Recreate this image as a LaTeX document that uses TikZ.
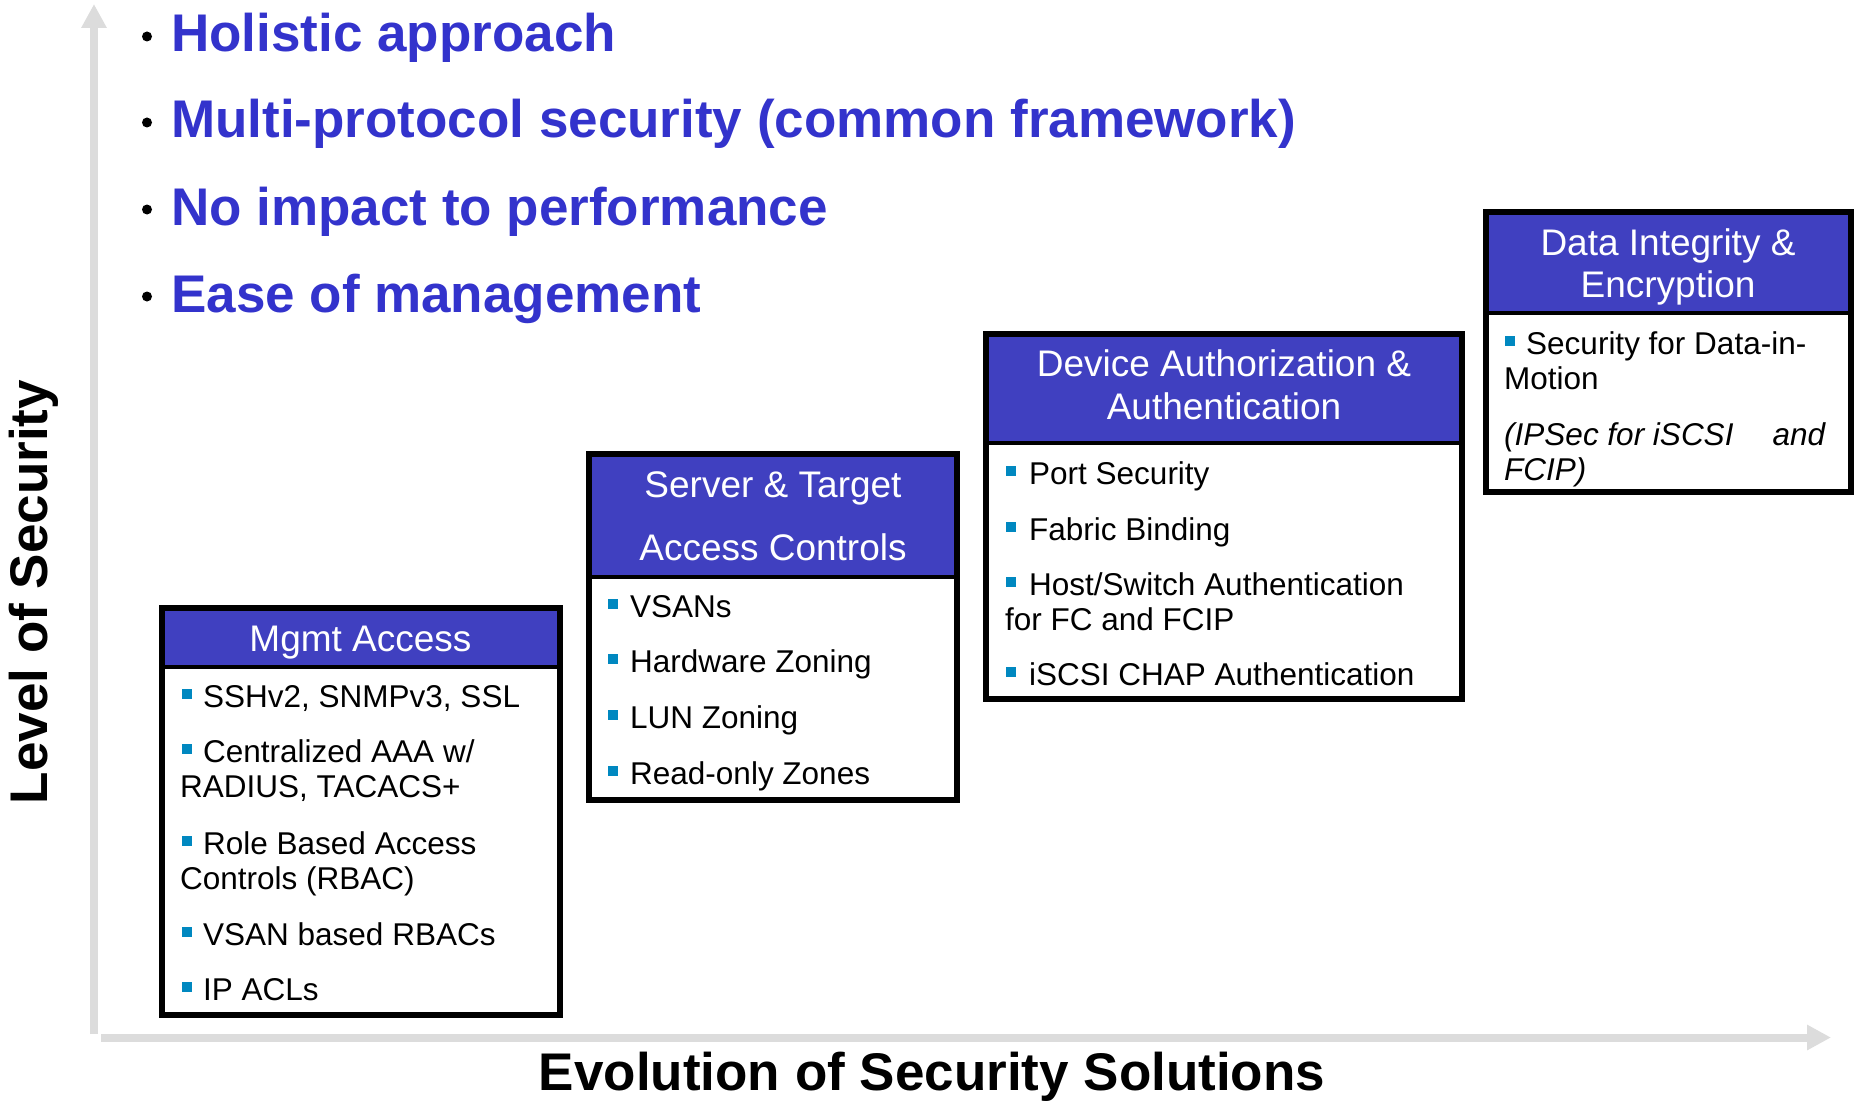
\documentclass[tikz,border=0pt]{standalone}
\usepackage{fontspec}
\setmainfont{Liberation Sans}
\usetikzlibrary{arrows.meta}
\definecolor{topblue}{RGB}{51,51,204}
\definecolor{hdrblue}{RGB}{64,64,192}
\definecolor{sqblue}{RGB}{0,136,192}
\definecolor{axisgray}{RGB}{220,220,220}
\tikzset{
  axisline/.style={draw=axisgray,line width=8pt,-{Triangle[width=24pt,length=24pt]},color=axisgray},
  topline/.style={anchor=base west,inner sep=0pt,text=topblue,font=\fontsize{53}{60}\selectfont\bfseries},
  topdot/.style={circle,fill=black,inner sep=0pt,minimum size=10pt},
  axlabel/.style={anchor=base,inner sep=0pt,font=\fontsize{53}{60}\selectfont\bfseries},
  hdrtext/.style={anchor=base,inner sep=0pt,text=white,font=\fontsize{37}{42}\selectfont},
  bodytext/.style={anchor=base west,inner sep=0pt,font=\fontsize{31.5}{35}\selectfont},
  sqmark/.style={anchor=south west,inner sep=0pt,fill=sqblue,minimum width=9.5pt,minimum height=9.5pt},
  boxframe/.style={draw=black,line width=6pt},
  hdrfill/.style={fill=hdrblue},
  hdrrule/.style={draw=black,line width=3.5pt}
}
\begin{document}
\begin{tikzpicture}[x=1pt,y=-1pt]
\useasboundingbox (0,0) rectangle (1854,1102);

% axes
\coordinate (ybot) at (94,1034);
\coordinate (ytop) at (94,4);
\coordinate (xleft) at (101,1037.5);
\coordinate (xright) at (1831,1037.5);
\draw[axisline] (ybot) -- (ytop);
\draw[axisline] (xleft) -- (xright);

\node[axlabel,rotate=90] (ylab) at (47.5,592) {Level of Security};
\node[axlabel] (xlab) at (932,1090) {Evolution of Security Solutions};

% top bullets
\node[topdot] (d1) at (147,36.5) {};
\node[topline] (t1) at (171,52) {Holistic approach};
\node[topdot] (d2) at (147,122.5) {};
\node[topline] (t2) at (171,138) {Multi-protocol security (common framework)};
\node[topdot] (d3) at (147,209.5) {};
\node[topline] (t3) at (171,225) {No impact to performance};
\node[topdot] (d4) at (147,296.5) {};
\node[topline] (t4) at (171,312) {Ease of management};

% ---------- Box 1: Mgmt Access
\fill[hdrfill] (161.5,608) rectangle (560,667);
\draw[hdrrule] (161.5,667) -- (560,667);
\draw[boxframe] (161.5,608) rectangle (560,1015);
\node[hdrtext] (h1) at (360.5,651) {Mgmt Access};
\node[sqmark] (s11) at (182,699) {};
\node[bodytext] (b11) at (203,707) {SSHv2, SNMPv3, SSL};
\node[sqmark] (s12) at (182,754) {};
\node[bodytext] (b12) at (203,762) {Centralized AAA w/};
\node[bodytext] (b12c) at (180,797) {RADIUS, TACACS+};
\node[sqmark] (s13) at (182,846) {};
\node[bodytext] (b13) at (203,854) {Role Based Access};
\node[bodytext] (b13c) at (180,889) {Controls (RBAC)};
\node[sqmark] (s14) at (182,937) {};
\node[bodytext] (b14) at (203,945) {VSAN based RBACs};
\node[sqmark] (s15) at (182,992) {};
\node[bodytext] (b15) at (203,1000) {IP ACLs};

% ---------- Box 2: Server & Target Access Controls
\fill[hdrfill] (589,454) rectangle (957,577);
\draw[hdrrule] (589,577) -- (957,577);
\draw[boxframe] (589,454) rectangle (957,800);
\node[hdrtext] (h2a) at (773,497) {Server \& Target};
\node[hdrtext] (h2b) at (773,560) {Access Controls};
\node[sqmark] (s21) at (608,609) {};
\node[bodytext] (b21) at (630,617) {VSANs};
\node[sqmark] (s22) at (608,664) {};
\node[bodytext] (b22) at (630,672) {Hardware Zoning};
\node[sqmark] (s23) at (608,720) {};
\node[bodytext] (b23) at (630,728) {LUN Zoning};
\node[sqmark] (s24) at (608,776) {};
\node[bodytext] (b24) at (630,784) {Read-only Zones};

% ---------- Box 3: Device Authorization & Authentication
\fill[hdrfill] (986,334) rectangle (1462,443);
\draw[hdrrule] (986,443) -- (1462,443);
\draw[boxframe] (986,334) rectangle (1462,699);
\node[hdrtext] (h3a) at (1224,376) {Device Authorization \&};
\node[hdrtext] (h3b) at (1224,419) {Authentication};
\node[sqmark] (s31) at (1006,476) {};
\node[bodytext] (b31) at (1029,484) {Port Security};
\node[sqmark] (s32) at (1006,532) {};
\node[bodytext] (b32) at (1029,540) {Fabric Binding};
\node[sqmark] (s33) at (1006,587) {};
\node[bodytext] (b33) at (1029,595) {Host/Switch Authentication};
\node[bodytext] (b33c) at (1005,630) {for FC and FCIP};
\node[sqmark] (s34) at (1006,677) {};
\node[bodytext] (b34) at (1029,685) {iSCSI CHAP Authentication};

% ---------- Box 4: Data Integrity & Encryption
\fill[hdrfill] (1486,212) rectangle (1851,313);
\draw[hdrrule] (1486,313) -- (1851,313);
\draw[boxframe] (1486,212) rectangle (1851,492);
\node[hdrtext] (h4a) at (1668,255) {Data Integrity \&};
\node[hdrtext] (h4b) at (1668,297) {Encryption};
\node[sqmark] (s41) at (1505,346) {};
\node[bodytext] (b41) at (1526,354) {Security for Data-in-};
\node[bodytext] (b41c) at (1504,389) {Motion};
\node[bodytext] (b42) at (1504,445) {\itshape\makebox[321pt][s]{(IPSec for iSCSI\hfill and}};
\node[bodytext] (b42c) at (1504,480) {\itshape FCIP)};
\end{tikzpicture}
\end{document}
